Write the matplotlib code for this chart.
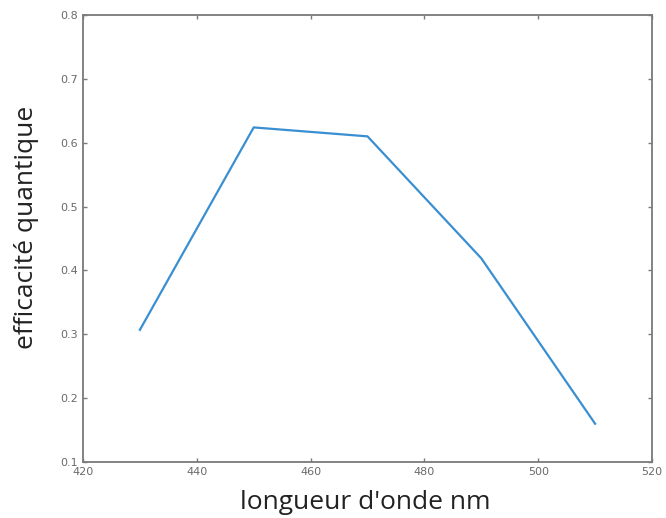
import matplotlib
matplotlib.use("Agg")
import matplotlib.pyplot as plt

# wavelength (nm) and quantum efficiency
wavelength = [430, 450, 470, 490, 510]
efficiency = [0.307, 0.624, 0.610, 0.419, 0.160]

x_ticks = [420, 440, 460, 480, 500, 520]
y_ticks = [0.1, 0.2, 0.3, 0.4, 0.5, 0.6, 0.7, 0.8]

fig = plt.figure(figsize=(6.66, 5.18), dpi=100)
ax = fig.add_axes([0.1246, 0.108, 0.8544, 0.863])

ax.plot(wavelength, efficiency, color='#3a8fd1', linewidth=1.6)

ax.set_xlim(420, 520)
ax.set_ylim(0.1, 0.8)
ax.set_xticks(x_ticks)
ax.set_yticks(y_ticks)
ax.set_yticklabels([f'{v:.1f}' for v in y_ticks])

for spine in ax.spines.values():
    spine.set_color('#7a7a7a')
    spine.set_linewidth(1.3)
ax.tick_params(direction='in', length=3, width=1, color='#7a7a7a',
               labelcolor='#6a6a6a', labelsize=8,
               top=True, right=True)

ax.set_xlabel("longueur d'onde nm", fontsize=19, family='Open Sans',
              color='#222222')
ax.set_ylabel('efficacité quantique', fontsize=19, family='Open Sans',
              color='#222222')
ax.xaxis.set_label_coords(0.4965, -0.063)
ax.yaxis.set_label_coords(-0.077, 0.526)

fig.savefig('out.png', dpi=100)
